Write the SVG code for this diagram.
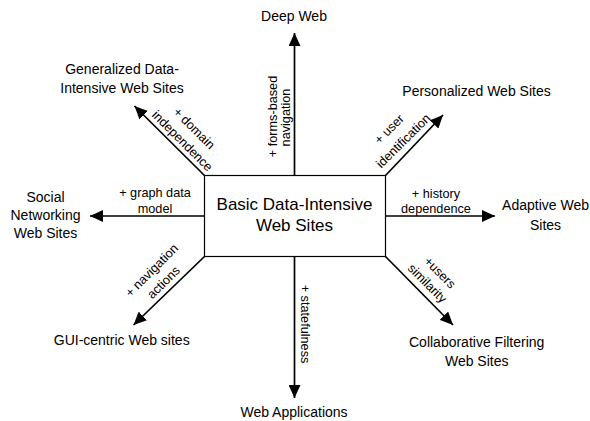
<svg xmlns="http://www.w3.org/2000/svg" width="590" height="421" viewBox="0 0 590 421">
  <style>
    .node { font-family: "Liberation Sans", Arial, sans-serif; font-size: 14px; fill: #000; text-anchor: middle; }
    .core { font-family: "Liberation Sans", Arial, sans-serif; font-size: 17px; fill: #000; text-anchor: middle; }
    .lbl { font-family: "Liberation Sans", Arial, sans-serif; font-size: 12.7px; fill: #000; text-anchor: middle; }
    .edge { stroke: #000; stroke-width: 1.7; fill: none; marker-end: url(#arrow); }
  </style>
  <defs>
    <marker id="arrow" markerUnits="userSpaceOnUse" markerWidth="14" markerHeight="12" refX="13" refY="6" orient="auto">
      <path d="M0,0 L13,6 L0,12 z" fill="#000"/>
    </marker>
  </defs>
  <rect width="590" height="421" fill="#fff"/>

  <!-- connectors radiating from the central box -->
  <g id="connectors">
    <line class="edge" x1="294.5" y1="175.5" x2="294.5" y2="33"/>
    <line class="edge" x1="294.5" y1="256.5" x2="294.5" y2="398"/>
    <line class="edge" x1="204.5" y1="216" x2="90" y2="216"/>
    <line class="edge" x1="385.5" y1="216" x2="495" y2="216"/>
    <line class="edge" x1="204.5" y1="175.5" x2="134.5" y2="106"/>
    <line class="edge" x1="385.5" y1="175.5" x2="443" y2="115"/>
    <line class="edge" x1="204.5" y1="256.5" x2="133.5" y2="325"/>
    <line class="edge" x1="385.5" y1="256.5" x2="453" y2="325"/>

    <!-- connector labels -->
    <g transform="translate(276.5,116.5) rotate(-90)"><text class="lbl" x="0" y="0">+ forms-based</text></g>
    <g transform="translate(289.5,117.5) rotate(-90)"><text class="lbl" x="0" y="0">navigation</text></g>

    <g transform="translate(300.7,324) rotate(90)"><text class="lbl" x="0" y="0">+ statefulness</text></g>

    <text class="lbl" x="155" y="197.3">+ graph data</text>
    <text class="lbl" x="155" y="212.7">model</text>

    <text class="lbl" x="436" y="197.7">+ history</text>
    <text class="lbl" x="436" y="212.7">dependence</text>

    <g transform="translate(191.1,131.4) rotate(45)"><text class="lbl" x="0" y="0">+ domain</text></g>
    <g transform="translate(179.4,143.9) rotate(45)"><text class="lbl" x="0" y="0">independence</text></g>

    <g transform="translate(392.2,132.2) rotate(-45)"><text class="lbl" x="0" y="0">+ user</text></g>
    <g transform="translate(406.2,143.9) rotate(-45)"><text class="lbl" x="0" y="0">identification</text></g>

    <g transform="translate(154.7,273.4) rotate(-45)"><text class="lbl" x="0" y="0">+ navigation</text></g>
    <g transform="translate(166.4,285.4) rotate(-45)"><text class="lbl" x="0" y="0">actions</text></g>

    <g transform="translate(436.9,275.6) rotate(45)"><text class="lbl" x="0" y="0">+users</text></g>
    <g transform="translate(424.4,286.4) rotate(45)"><text class="lbl" x="0" y="0">similarity</text></g>
  </g>

  <g id="basic">
    <rect x="204.5" y="175.5" width="181" height="81" fill="#fff" stroke="#000" stroke-width="1.2"/>
    <text class="core" x="294.5" y="210">Basic Data-Intensive</text>
    <text class="core" x="294.5" y="230.7">Web Sites</text>
  </g>

  <g id="deep-web">
    <text class="node" x="294" y="21">Deep Web</text>
  </g>

  <g id="generalized">
    <text class="node" x="122" y="74">Generalized Data-</text>
    <text class="node" x="122" y="92.7">Intensive Web Sites</text>
  </g>

  <g id="personalized">
    <text class="node" x="476.5" y="96">Personalized Web Sites</text>
  </g>

  <g id="social">
    <text class="node" x="45.5" y="201.7">Social</text>
    <text class="node" x="45.5" y="220">Networking</text>
    <text class="node" x="45.5" y="238.3">Web Sites</text>
  </g>

  <g id="adaptive">
    <text class="node" x="545.5" y="210">Adaptive Web</text>
    <text class="node" x="545.5" y="230">Sites</text>
  </g>

  <g id="gui-centric">
    <text class="node" x="121.7" y="345">GUI-centric Web sites</text>
  </g>

  <g id="collaborative">
    <text class="node" x="476.7" y="346.7">Collaborative Filtering</text>
    <text class="node" x="476.7" y="365.7">Web Sites</text>
  </g>

  <g id="web-applications">
    <text class="node" x="294" y="416.7">Web Applications</text>
  </g>
</svg>
